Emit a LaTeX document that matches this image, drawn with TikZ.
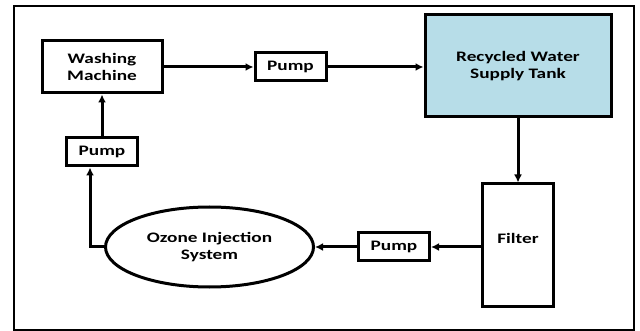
\documentclass[tikz,border=0pt]{standalone}
\usepackage{fontspec}
\setmainfont{Carlito}
\newfontfamily\widefont[FakeStretch=1.33]{Carlito}
\usetikzlibrary{positioning,arrows.meta,shapes.geometric}

\begin{document}
\begin{tikzpicture}[
  x=1pt, y=-1pt,
  box/.style={draw, line width=3pt, align=center, inner sep=0pt, font=\widefont\fontsize{14.5}{17}\selectfont\bfseries},
  pump/.style={box, minimum width=71pt, minimum height=28pt},
  arrow/.style={-{Latex[length=8pt,width=8pt]}, line width=3pt},
  node distance=90pt and 90pt
]
\useasboundingbox (0,0) rectangle (640,331);
\draw[line width=1.5pt] (14,6) rectangle (634,330);
\node[box, minimum width=120pt, minimum height=52pt] (wm) at (102,67) {Washing\\Machine};
\node[pump, right=90pt of wm] (ptop) {Pump};
\node[box, fill={rgb,255:red,183;green,221;blue,232}, minimum width=186pt, minimum height=102pt,
  right=96pt of ptop, yshift=1pt] (tank) {Recycled Water\\Supply Tank};
\node[box, minimum width=71pt, minimum height=122pt, below=64pt of tank] (filter) {Filter\\[-3pt]};
\node[pump, left=50pt of filter, yshift=-2pt] (pbot) {Pump};
\node[box, ellipse, minimum width=208pt, minimum height=80pt, left=42pt of pbot] (ozone) {Ozone Injection\\System};
\node[pump, below=42pt of wm] (pleft) {Pump};
\draw[arrow] (wm) -- (ptop);
\draw[arrow] (ptop.east) -- (ptop.east -| tank.west);
\draw[arrow] (tank) -- (filter);
\draw[arrow] (filter.west |- pbot.east) -- (pbot);
\draw[arrow] (pbot) -- (ozone);
\draw[arrow] (ozone.west) -| ([xshift=-12pt]pleft.south);
\draw[arrow] (pleft) -- (wm);
\end{tikzpicture}
\end{document}
